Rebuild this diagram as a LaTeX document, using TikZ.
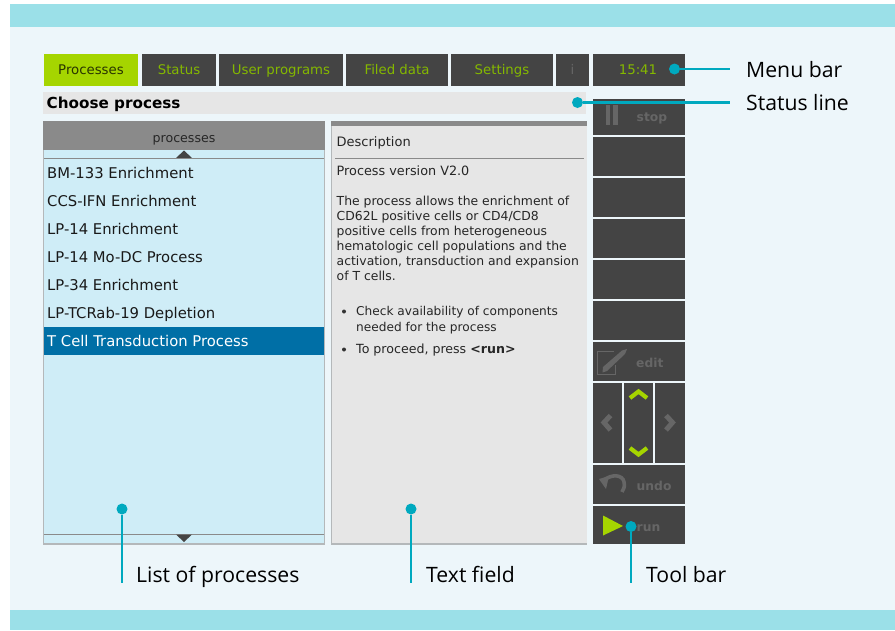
\documentclass[tikz,border=0pt]{standalone}
\usepackage{fontspec}
\setmainfont{DejaVu Sans}
\newfontfamily\labelfont{Open Sans}
\definecolor{band}{HTML}{9BE0E8}
\definecolor{paper}{HTML}{EDF6FA}
\definecolor{dark}{HTML}{444444}
\definecolor{lime}{HTML}{A5D500}
\definecolor{limetext}{HTML}{84B800}
\definecolor{listbg}{HTML}{CFEDF7}
\definecolor{panel}{HTML}{E6E6E6}
\definecolor{headgray}{HTML}{8A8A8A}
\definecolor{rulegray}{HTML}{B4B8BA}
\definecolor{selblue}{HTML}{006FA6}
\definecolor{callout}{HTML}{00A9BF}
\definecolor{dimtext}{HTML}{666666}
\tikzset{
  x=1pt,y=-1pt,
  box/.style={inner sep=0pt,outer sep=0pt,anchor=north west,minimum width=#1},
  tab/.style={fill=dark,text=limetext,font=\fontsize{13.3}{13.3}\selectfont,inner sep=0pt,outer sep=0pt,anchor=center,text height=11pt,text depth=3pt},
  tool/.style={fill=dark,inner sep=0pt,outer sep=0pt,minimum width=92pt,anchor=north west},
  toollabel/.style={text=dimtext,font=\fontsize{12.3}{12.3}\selectfont\bfseries,anchor=base west,inner sep=0pt},
  item/.style={anchor=base west,inner sep=0pt,font=\fontsize{14.8}{14.8}\selectfont,text=black!90},
  desc/.style={anchor=base west,inner sep=0pt,font=\fontsize{12.4}{12.4}\selectfont,text=black!85},
  lab/.style={anchor=base west,inner sep=0pt,font=\labelfont\fontsize{21.2}{21.2}\selectfont,text=black},
  dot/.style={circle,fill=callout,inner sep=0pt,minimum size=11pt},
  lead/.style={draw=callout,line width=2.6pt},
  arrowup/.style={draw=lime,line width=4.2pt,line cap=butt},
  arrowgray/.style={draw=dimtext,line width=5pt,line cap=butt},
}
\begin{document}
\begin{tikzpicture}
\useasboundingbox (0,0) rectangle (895,630);
\fill[white] (0,0) rectangle (895,630);
\fill[paper] (10,27) rectangle (895,610);
\fill[band] (10,4) rectangle (895,27);
\fill[band] (10,610) rectangle (895,630);

% menu bar
\node[tab,fill=lime,text=black!75!lime,minimum width=94pt,minimum height=32pt] (tabproc) at (91,70) {Processes};
\node[tab,minimum width=74pt,minimum height=32pt] (tabstatus) at (179,70) {Status};
\node[tab,minimum width=124pt,minimum height=32pt] (tabuser) at (281,70) {User programs};
\node[tab,minimum width=102pt,minimum height=32pt] (tabfiled) at (397,70) {Filed data};
\node[tab,minimum width=102pt,minimum height=32pt] (tabset) at (502,70) {Settings};
\node[tab,text=dimtext,minimum width=33pt,minimum height=32pt] (tabi) at (572.5,70) {i};
\node[box=92pt,fill=dark,minimum height=32pt] (tabtime) at (593,54) {};
\node[tab,fill=none] (timetext) at (638,70) {15:41};

% status line
\node[box=543pt,fill=panel,minimum height=22pt] (statusline) at (43,92) {};
\node[anchor=base west,inner sep=0pt,font=\fontsize{15.2}{15.2}\selectfont\bfseries] (choose) at (46.5,108) {Choose process};

% list of processes
\fill[rulegray] (43,121) rectangle (325,544.5);
\node[box=280pt,fill=listbg,minimum height=421pt] (listbox) at (44,122) {};
\node[box=282pt,fill=headgray,minimum height=29pt] (listhead) at (43,121) {};
\node[font=\fontsize{12.6}{12.6}\selectfont,text=black!85,inner sep=0pt] (listtitle) at (184,140) {processes};
\fill[dark] (176,158) -- (184,150.5) -- (192,158) -- cycle;
\draw[headgray,line width=0.9pt] (44,158.5) -- (324,158.5);
\draw[headgray,line width=0.9pt] (44,534) -- (324,534);
\fill[dark] (176,534.5) -- (192,534.5) -- (184,542) -- cycle;
\node[item] (p1) at (47,178.5) {BM-133 Enrichment};
\node[item] (p2) at (47,206.5) {CCS-IFN Enrichment};
\node[item] (p3) at (47,234.5) {LP-14 Enrichment};
\node[item] (p4) at (47,262.5) {LP-14 Mo-DC Process};
\node[item] (p5) at (47,290.5) {LP-34 Enrichment};
\node[item] (p6) at (47,318.5) {LP-TCRab-19 Depletion};
\node[box=280pt,fill=selblue,minimum height=28pt] (psel) at (44,327) {};
\node[item,text=white] (p7) at (47,346.5) {T Cell Transduction Process};

% text field
\fill[rulegray] (331,121) rectangle (587,544.5);
\node[box=255pt,fill=panel,minimum height=417pt] (textbox) at (332,126) {};
\fill[headgray] (331,121) rectangle (587,126);
\draw[headgray,line width=0.8pt] (335,158.5) -- (584,158.5);
\node[desc,font=\fontsize{13}{13}\selectfont] (d0) at (336.5,146.5) {Description};
\node[desc,font=\fontsize{12.8}{12.8}\selectfont] (d1) at (336.5,175) {Process version V2.0};
\node[desc] (d2) at (336.5,205.5) {The process allows the enrichment of};
\node[desc] (d3) at (336.5,220.5) {CD62L positive cells or CD4/CD8};
\node[desc] (d4) at (336.5,235.5) {positive cells from heterogeneous};
\node[desc] (d5) at (336.5,250.5) {hematologic cell populations and the};
\node[desc] (d6) at (336.5,265) {activation, transduction and expansion};
\node[desc] (d7) at (336.5,280) {of T cells.};
\fill[black!80] (344,311.5) circle (2);
\node[desc,font=\fontsize{12.15}{12.15}\selectfont] (d8) at (356,315.5) {Check availability of components};
\node[desc,font=\fontsize{12.15}{12.15}\selectfont] (d9) at (356,331) {needed for the process};
\fill[black!80] (344,349.5) circle (2);
\node[desc,font=\fontsize{12.6}{12.6}\selectfont] (d10) at (356,353.5) {To proceed, press \textbf{<run>}};

% tool bar
\node[tool,minimum height=36pt] (tstop) at (593,99) {};
\node[tool,minimum height=39pt] (t2) at (593,137) {};
\node[tool,minimum height=39pt] (t3) at (593,178) {};
\node[tool,minimum height=39pt] (t4) at (593,219) {};
\node[tool,minimum height=39pt] (t5) at (593,260) {};
\node[tool,minimum height=39pt] (t6) at (593,301) {};
\node[tool,minimum height=39pt] (tedit) at (593,342) {};
\node[box=28.5pt,fill=dark,minimum height=80pt] (tleft) at (593,383) {};
\node[box=29.5pt,fill=dark,minimum height=80pt] (tmid) at (623.5,383) {};
\node[box=30pt,fill=dark,minimum height=80pt] (tright) at (655,383) {};
\node[tool,minimum height=39pt] (tundo) at (593,465) {};
\node[tool,minimum height=38pt] (trun) at (593,506) {};
\node[toollabel] (lstop) at (636.5,121.5) {stop};
\node[toollabel] (ledit) at (636,367) {edit};
\node[toollabel] (lundo) at (636.5,490) {undo};
\node[toollabel] (lrun) at (636.5,531) {run};
% stop icon
\fill[dimtext] (605.5,105) rectangle (610,125);
\fill[dimtext] (613,105) rectangle (617.5,125);
% edit icon
\draw[dimtext,line width=0.9pt] (614,351) -- (597.5,351) -- (597.5,374.5) -- (615,374.5) -- (615,365);
\fill[dimtext] (603,367) -- (622,350.5) -- (627,349) -- (625,354) -- (607,371) -- (602.5,372.5) -- cycle;
% undo icon
\draw[dimtext,line width=3.6pt] (603,481) .. controls (612,473) and (623,475) .. (624,482) .. controls (625,486) and (624,489) .. (622,492);
\fill[dimtext] (599,479) -- (609,476) -- (606,489) -- cycle;
% nav arrows
\draw[arrowup] (630,398) -- (638.5,391.5) -- (647,398);
\draw[arrowup] (630,448) -- (638.5,454.5) -- (647,448);
\draw[arrowgray] (610.5,415.5) -- (604,422.5) -- (610.5,430);
\draw[arrowgray] (666,415.5) -- (672.5,422.5) -- (666,430);
% run triangle
\fill[lime] (603,515.5) -- (623,526) -- (603,535.5) -- cycle;

% callouts
\node[dot] (dmenu) at (674.5,69) {};
\coordinate (emenu) at (730,69);
\draw[lead] (dmenu) -- (emenu);
\node[dot] (dstatus) at (577.5,102.5) {};
\coordinate (estatus) at (730,102.5);
\draw[lead] (dstatus) -- (estatus);
\node[dot] (dlist) at (122,509) {};
\coordinate (elist) at (122,583);
\draw[lead] (dlist) -- (elist);
\node[dot] (dtext) at (411,509) {};
\coordinate (etext) at (411,583);
\draw[lead] (dtext) -- (etext);
\node[dot] (dtool) at (631,526.5) {};
\coordinate (etool) at (631,583);
\draw[lead] (dtool) -- (etool);
\node[lab] (lmenu) at (746,77.5) {Menu bar};
\node[lab] (lstatus) at (746,110.5) {Status line};
\node[lab] (llist) at (136,582) {List of processes};
\node[lab] (ltext) at (426,582) {Text field};
\node[lab] (ltool) at (646,582) {Tool bar};
\end{tikzpicture}
\end{document}
